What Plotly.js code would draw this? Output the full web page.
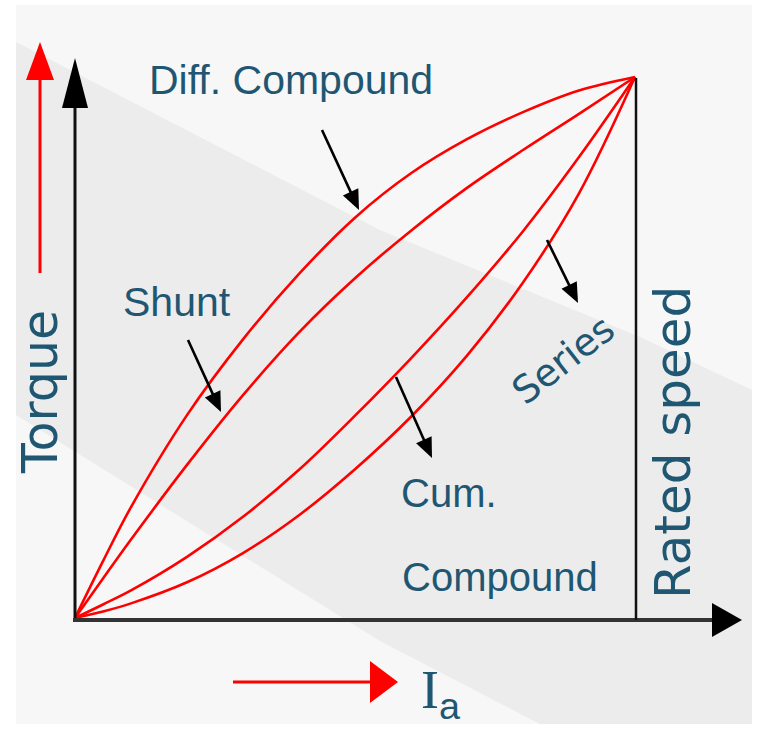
<!DOCTYPE html>
<html>
<head>
<meta charset="utf-8">
<script src="https://cdn.plot.ly/plotly-3.0.1.min.js"></script>
<style>
html,body{margin:0;padding:0;background:#fff;}
#chart{width:757px;height:738px;}
</style>
</head>
<body>
<div id="chart"></div>
<script>
// Normalised armature current (0 = origin, 1 = rated) and torque values
const currentIa = [0, 0.05, 0.1, 0.2, 0.3, 0.4, 0.5, 0.6, 0.7, 0.8, 0.9, 1.0];
const diffCompound = [0, 0.105, 0.205, 0.375, 0.515, 0.636, 0.74, 0.822, 0.885, 0.935, 0.975, 1];
const shunt = [0, 0.073, 0.145, 0.283, 0.412, 0.528, 0.628, 0.716, 0.795, 0.865, 0.932, 1];
const cumCompound = [0, 0.025, 0.051, 0.113, 0.187, 0.274, 0.374, 0.48, 0.593, 0.715, 0.852, 1];
const series = [0, 0.012, 0.027, 0.066, 0.12, 0.19, 0.275, 0.372, 0.485, 0.62, 0.785, 1];
const seriesNames = ["Diff. Compound", "Shunt", "Cum. Compound", "Series"];
const seriesValues = [diffCompound, shunt, cumCompound, series];

const W = 757, H = 738;
const ox = 75, oy = 618, ex = 635, ey = 77;
const sx = ex - ox, sy = oy - ey;

const RED = "#ff0000";
const TEXT = "#1f5773";
const SANS = "Liberation Sans, Arial, sans-serif";
const WIDE = "DejaVu Sans, Verdana, sans-serif";

const traces = seriesValues.map((vals, i) => ({
  type: "scatter", mode: "lines", name: seriesNames[i],
  x: currentIa, y: vals, xaxis: "x", yaxis: "y",
  line: {color: RED, width: 2.6, shape: "spline", smoothing: 1},
  hoverinfo: "skip", showlegend: false
}));
// invisible trace to activate pixel overlay axes
traces.push({type: "scatter", mode: "markers", x: [0], y: [0], xaxis: "x2", yaxis: "y2",
  marker: {opacity: 0}, hoverinfo: "skip", showlegend: false});

const P = (pts) => "M" + pts.map(p => p[0].toFixed(1) + "," + p[1].toFixed(1)).join("L") + "Z";
const shapes = [
  // background
  {type: "rect", xref: "x2", yref: "y2", x0: 16, x1: 752, y0: 5, y1: 724, fillcolor: "#f7f7f7", line: {width: 0}, layer: "below"},
  {type: "path", xref: "x2", yref: "y2", layer: "below", fillcolor: "#ececec", line: {width: 0},
    path: P([[16,42],[380,230],[640,337],[752,390],[752,724],[540,724],[380,641],[16,415]])},
  // y axis
  {type: "line", xref: "x2", yref: "y2", x0: 75, x1: 75, y0: 621, y1: 100, line: {color: "#111", width: 3}},
  {type: "path", xref: "x2", yref: "y2", fillcolor: "#000", line: {width: 0}, path: P([[62,108],[88,108],[75,58]])},
  // x axis
  {type: "line", xref: "x2", yref: "y2", x0: 73, x1: 716, y0: 620, y1: 620, line: {color: "#333", width: 4}},
  {type: "path", xref: "x2", yref: "y2", fillcolor: "#000", line: {width: 0}, path: P([[712,603],[712,637],[742,620]])},
  // rated speed line
  {type: "line", xref: "x2", yref: "y2", x0: 636, x1: 636, y0: 78, y1: 620, line: {color: "#111", width: 2.5}},
  // red torque arrow
  {type: "line", xref: "x2", yref: "y2", x0: 40, x1: 40, y0: 273, y1: 78, line: {color: RED, width: 3}},
  {type: "path", xref: "x2", yref: "y2", fillcolor: RED, line: {width: 0}, path: P([[26,80],[54,80],[40,42]])},
  // red Ia arrow
  {type: "line", xref: "x2", yref: "y2", x0: 233, x1: 374, y0: 682, y1: 682, line: {color: RED, width: 3}},
  {type: "path", xref: "x2", yref: "y2", fillcolor: RED, line: {width: 0}, path: P([[370,661],[370,703],[398,682]])}
];

// black pointer arrows (tail -> tip), drawn as line + triangular head
function pointer(tail, tip) {
  const dx = tip[0] - tail[0], dy = tip[1] - tail[1];
  const len = Math.hypot(dx, dy), ux = dx / len, uy = dy / len;
  const L = 20, hw = 8.5;
  const bx = tip[0] - ux * L, by = tip[1] - uy * L;
  shapes.push({type: "line", xref: "x2", yref: "y2", x0: tail[0], y0: tail[1], x1: bx + ux * 2, y1: by + uy * 2,
    line: {color: "#000", width: 2.6}});
  shapes.push({type: "path", xref: "x2", yref: "y2", fillcolor: "#000", line: {width: 0},
    path: P([[bx - uy * hw, by + ux * hw], [bx + uy * hw, by - ux * hw], tip])});
}
pointer([322,130], [359,210]);
pointer([188,340], [221,412]);
pointer([396,377], [432,458]);
pointer([547,240], [578,303]);

function label(text, x, y, size, fam, angle) {
  return {xref: "x2", yref: "y2", x: x, y: y, text: text, showarrow: false, textangle: angle || 0,
    font: {family: fam, size: size, color: TEXT}, xanchor: "center", yanchor: "middle"};
}

const annotations = [
  label("Diff. Compound", 291, 80, 41, SANS),
  label("Shunt", 177, 302, 41, SANS),
  label("Cum.", 449, 493, 40, SANS),
  label("Compound", 500, 577, 40, SANS),
  label("Torque", 40, 392, 49, WIDE, -90),
  label("Rated speed", 673, 443, 50, WIDE, -90),
  label("Series", 563, 360, 38, WIDE, -38),
  {xref: "x2", yref: "y2", x: 441, y: 693, showarrow: false, xanchor: "center", yanchor: "middle",
    text: '<span style="font-family:Liberation Serif">I</span><sub>a</sub>',
    font: {family: SANS, size: 54, color: TEXT}}
];

const layout = {
  width: W, height: H, autosize: false,
  margin: {l: 0, r: 0, t: 0, b: 0, pad: 0},
  paper_bgcolor: "#ffffff", plot_bgcolor: "rgba(0,0,0,0)",
  xaxis: {range: [(0 - ox) / sx, (W - ox) / sx], visible: false, fixedrange: true},
  yaxis: {range: [(oy - H) / sy, oy / sy], visible: false, fixedrange: true},
  xaxis2: {range: [0, W], overlaying: "x", visible: false, fixedrange: true},
  yaxis2: {range: [H, 0], overlaying: "y", visible: false, fixedrange: true},
  shapes: shapes,
  annotations: annotations,
  showlegend: false
};

Plotly.newPlot("chart", traces, layout, {staticPlot: true, displayModeBar: false});
</script>
</body>
</html>
